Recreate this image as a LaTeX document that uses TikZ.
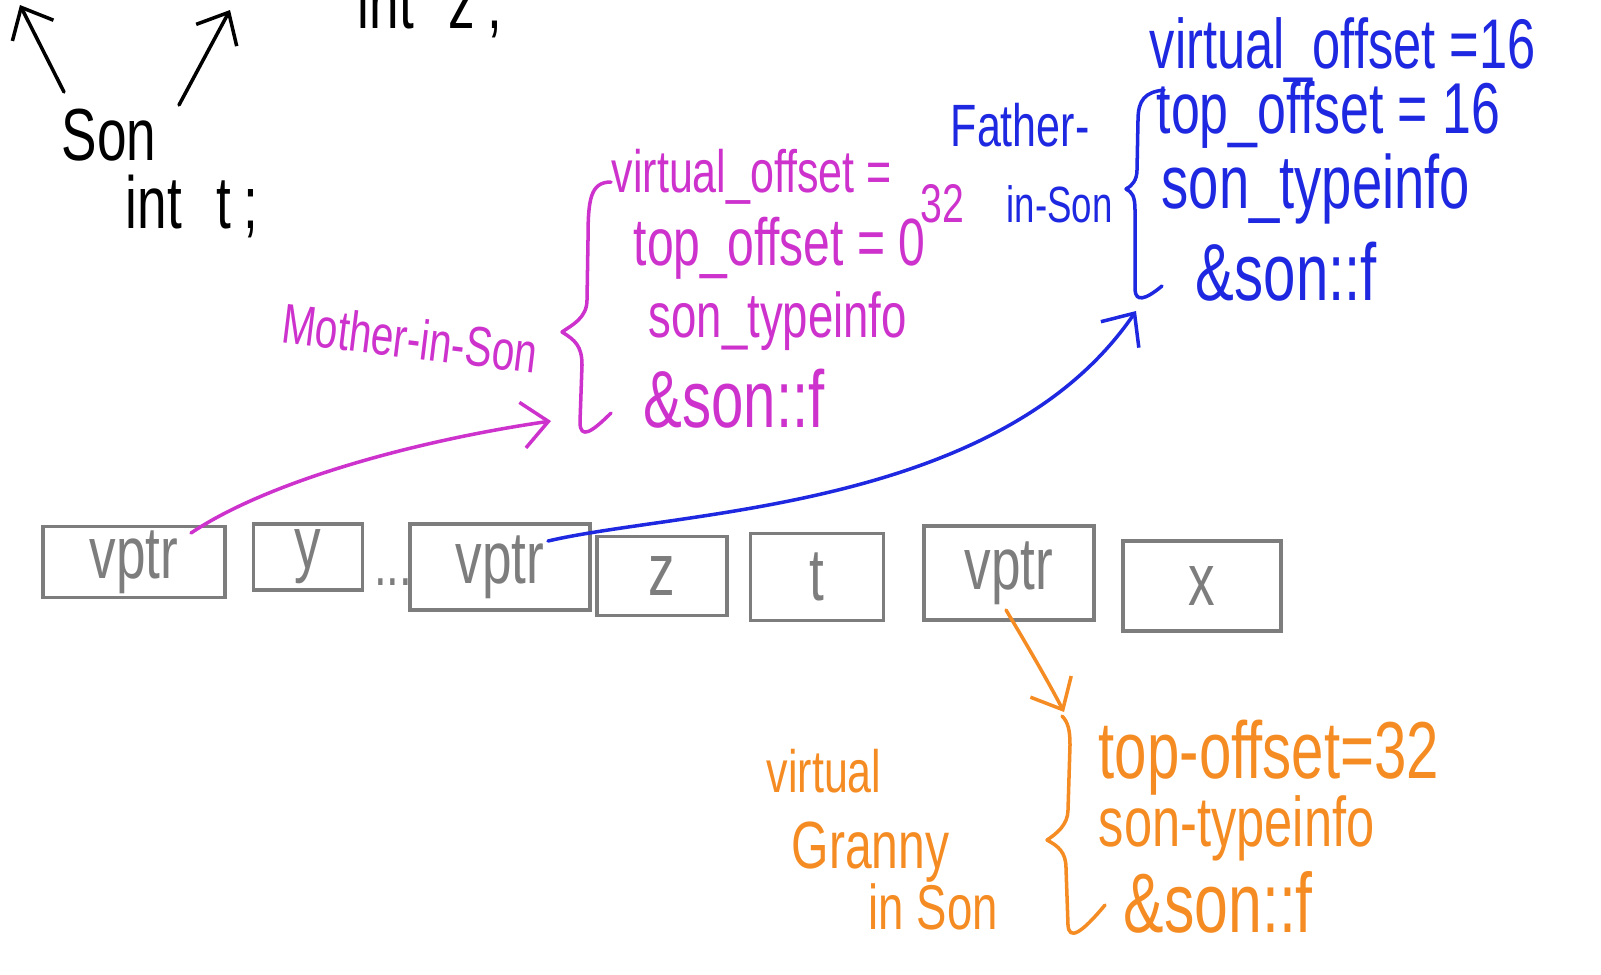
\documentclass[tikz,border=0pt]{standalone}
\usepackage{fontspec}
\newfontfamily\hand[FakeStretch=0.72]{Liberation Sans}
\usetikzlibrary{arrows.meta}
\definecolor{mag}{RGB}{205,50,205}
\definecolor{blu}{RGB}{30,40,225}
\definecolor{org}{RGB}{245,140,35}
\definecolor{gry}{RGB}{125,125,125}
\begin{document}
\begin{tikzpicture}[x=0.1mm,y=-0.1mm,
  hw/.style={font=\hand\fontsize{#1}{#1}\selectfont, inner sep=0pt, anchor=base west},
  cell/.style={draw=gry, line width=1pt, text=gry, font=\hand\fontsize{21}{21}\selectfont, inner sep=0pt},
  pen/.style={line width=1pt, line cap=round, line join=round},
  barb/.style={-{Straight Barb[length=2.6mm,width=4.6mm]}}]
\useasboundingbox (0,0) rectangle (1601,974);
\clip (0,0) rectangle (1601,974);

% ---------- black top-left ----------
\node[hw=21] (son) at (61,160) {Son};
\node[hw=21] (intt) at (125,228) {int\hspace{3.5mm}t\,;};
\node[hw=21] (intz) at (357,28) {int\hspace{3.5mm}z\,;};
\coordinate (upL) at (20,5);
\coordinate (upR) at (230,10);
\draw[pen,barb] ([shift={(3,-68)}]son.base west) -- (upL);
\draw[pen,barb] ([shift={(118,-55)}]son.base west) -- (upR);

% ---------- memory cells ----------
\node[cell, minimum width=18.2mm, minimum height=7.1mm] (b1) at (134,562) {vptr};
\node[cell, minimum width=10.9mm, minimum height=6.6mm] (b2) at (308,557) {y};
\node[text=gry, font=\hand\fontsize{18}{18}\selectfont, inner sep=0pt] (dots) at (393,582) {...};
\node[cell, minimum width=18.0mm, minimum height=8.6mm] (b3) at (500,567) {vptr};
\node[cell, minimum width=13.0mm, minimum height=7.9mm] (b4) at (662,576) {z};
\node[cell, minimum width=13.3mm, minimum height=8.7mm] (b5) at (817,577) {t};
\node[cell, minimum width=17.0mm, minimum height=9.4mm] (b6) at (1009,573) {vptr};
\node[cell, minimum width=15.8mm, minimum height=9.0mm] (b7) at (1202,586) {x};

% ---------- magenta: Mother-in-Son ----------
\begin{scope}[mag]
\node[hw=16, rotate=-7, anchor=center, text=mag] (mlab) at (410,338) {Mother-in-Son};
\node[hw=17, text=mag] (m1) at (611,192) {virtual\_offset =};
\node[hw=15.5, text=mag] (m32) at (920,222) {32};
\node[hw=19, text=mag] (m2) at (633,265) {top\_offset = 0};
\node[hw=18, text=mag] (m3) at (648,337) {son\_typeinfo};
\node[hw=23, text=mag] (m4) at (643,427) {\&son::f};
\draw[pen] (611,182) .. controls (590,182) and (588,200) .. (588,240) -- (587,300)
  .. controls (587,318) and (572,325) .. (562,332)
  .. controls (575,340) and (582,346) .. (582,365) -- (580,422)
  .. controls (580,440) and (592,432) .. (611,413);
\coordinate (mtip) at (551,421);
\draw[pen,barb] ([shift={(57,-29)}]b1.center) .. controls (270,480) and (420,440) .. (mtip);
\end{scope}

% ---------- blue: Father-in-Son ----------
\begin{scope}[blu]
\node[hw=17, text=blu] (flab1) at (950,146) {Father-};
\node[hw=14.5, text=blu] (flab2) at (1006,222) {in-Son};
\node[hw=20, text=blu] (f1) at (1149,68) {virtual\_offset =16};
\node[hw=20.5, text=blu] (f2) at (1156,133) {top\_offset = 16};
\node[hw=21.5, text=blu] (f3) at (1161,208) {son\_typeinfo};
\node[hw=23, text=blu] (f4) at (1195,300) {\&son::f};
\draw[pen] (1164,90) .. controls (1145,92) and (1138,100) .. (1138,120) -- (1137,170)
  .. controls (1137,180) and (1132,186) .. (1126,189)
  .. controls (1132,192) and (1135,196) .. (1135,210) -- (1135,290)
  .. controls (1136,302) and (1145,300) .. (1162,286);
\coordinate (btip) at (1136,311);
\draw[pen,barb] ([shift={(48,-26)}]b3.center) .. controls (680,510) and (1000,510) .. (btip);
\end{scope}

% ---------- orange: virtual Granny in Son ----------
\begin{scope}[org]
\node[hw=17, text=org] (g1) at (766,792) {virtual};
\node[hw=19, text=org] (g2) at (791,868) {Granny};
\node[hw=18, text=org] (g3) at (868,929) {in Son};
\node[hw=23, text=org] (o1) at (1098,778) {top-offset=32};
\node[hw=20, text=org] (o2) at (1098,846) {son-typeinfo};
\node[hw=24, text=org] (o3) at (1123,932) {\&son::f};
\draw[pen] (1062,716) .. controls (1068,722) and (1070,730) .. (1070,745) -- (1068,810)
  .. controls (1068,825) and (1056,834) .. (1047,840)
  .. controls (1058,846) and (1066,852) .. (1066,868) -- (1068,925)
  .. controls (1069,940) and (1080,935) .. (1105,905);
\coordinate (otip) at (1064,712);
\draw[pen,barb] ([shift={(-3,37)}]b6.center) .. controls (1030,650) and (1050,685) .. (otip);
\end{scope}
\end{tikzpicture}
\end{document}
